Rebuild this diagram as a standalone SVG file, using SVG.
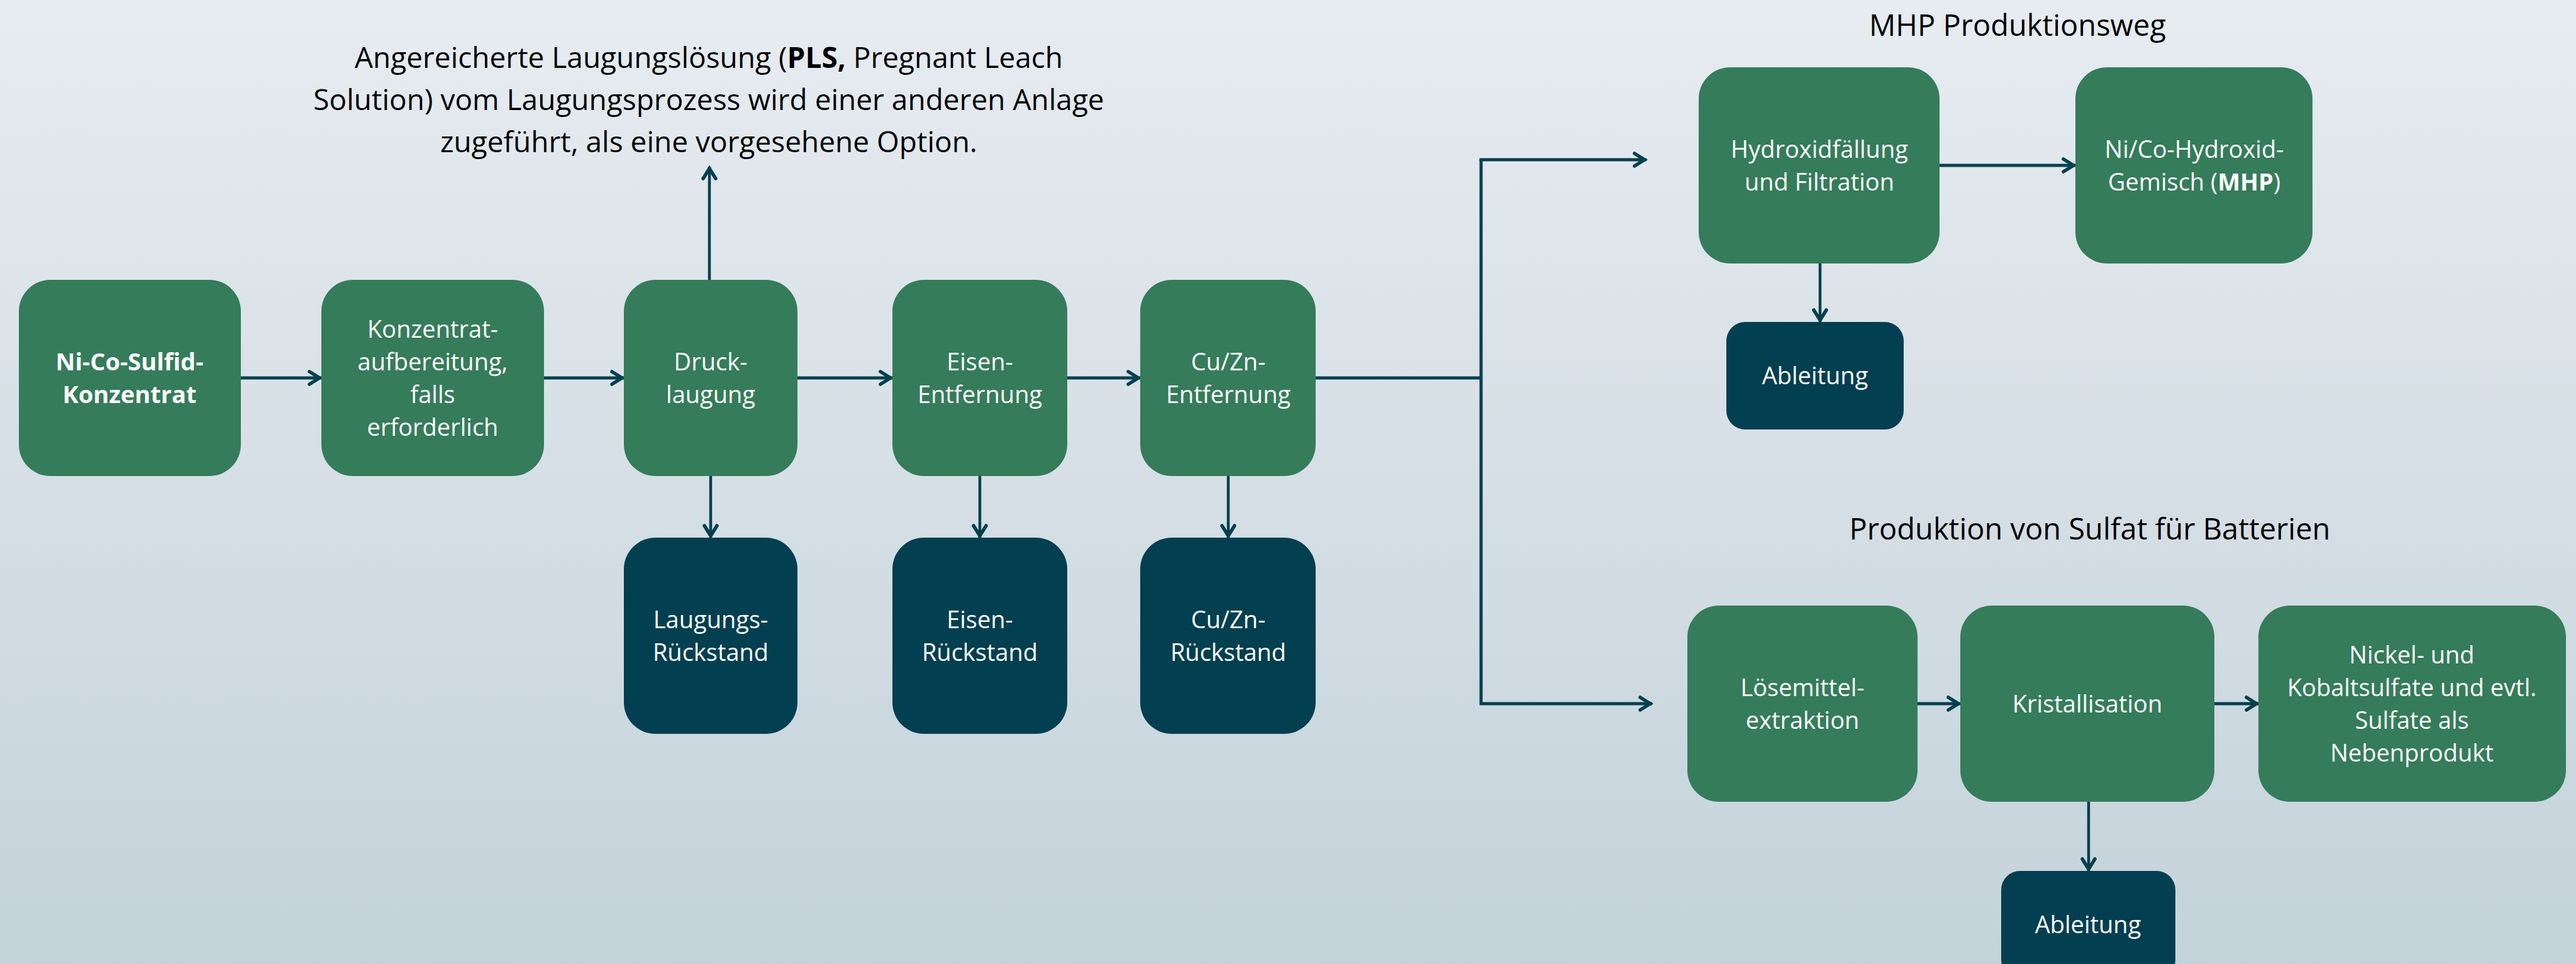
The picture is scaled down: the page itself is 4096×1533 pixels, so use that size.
<svg xmlns="http://www.w3.org/2000/svg" width="4096" height="1533" viewBox="0 0 4096 1533">
<defs>
<linearGradient id="bg" x1="0" y1="0" x2="0" y2="1">
<stop offset="0" stop-color="#E7ECF1"/>
<stop offset="1" stop-color="#C4D2DA"/>
</linearGradient>
<marker id="arr" viewBox="-25 -15 30 30" markerWidth="30" markerHeight="30" refX="0" refY="0" orient="auto" markerUnits="userSpaceOnUse">
<path d="M-19,-10 L-3,0 L-19,10" fill="none" stroke="#03404F" stroke-width="5.5" stroke-linecap="round" stroke-linejoin="miter"/>
</marker>
<style>
.g{fill:#357C5B}
.d{fill:#023F50}
.t{font-family:"Open Sans","Noto Sans",sans-serif;font-size:38px;fill:#FFFFFF;text-anchor:middle}
.h{font-family:"Open Sans","Noto Sans",sans-serif;font-size:46px;fill:#000000;text-anchor:middle}
.c{fill:none;stroke:#03404F;stroke-width:4.5}
.c5{fill:none;stroke:#03404F;stroke-width:5}
.b{font-weight:bold}
</style>
</defs>
<rect x="0" y="0" width="4096" height="1533" fill="url(#bg)"/>

<g id="title-pls">
<text class="h" x="1127" y="108"><tspan>Angereicherte Laugungslösung (</tspan><tspan class="b">PLS,</tspan><tspan> Pregnant Leach</tspan></text>
<text class="h" x="1127" y="175">Solution) vom Laugungsprozess wird einer anderen Anlage</text>
<text class="h" x="1127" y="242">zugeführt, als eine vorgesehene Option.</text>
</g>
<g id="title-mhp"><text class="h" x="3208" y="57" style="font-size:47px">MHP Produktionsweg</text></g>
<g id="title-sulfat"><text class="h" x="3323" y="858" style="font-size:47px">Produktion von Sulfat für Batterien</text></g>

<g id="connectors">
<line class="c5" x1="383" y1="601" x2="511" y2="601" marker-end="url(#arr)"/>
<line class="c5" x1="865" y1="601" x2="992" y2="601" marker-end="url(#arr)"/>
<line class="c5" x1="1268" y1="601" x2="1419" y2="601" marker-end="url(#arr)"/>
<line class="c5" x1="1697" y1="601" x2="1813" y2="601" marker-end="url(#arr)"/>
<line class="c" x1="1128" y1="445" x2="1128" y2="265" marker-end="url(#arr)"/>
<line class="c" x1="1130" y1="757" x2="1130" y2="855" marker-end="url(#arr)"/>
<line class="c" x1="1558" y1="757" x2="1558" y2="855" marker-end="url(#arr)"/>
<line class="c" x1="1953" y1="757" x2="1953" y2="855" marker-end="url(#arr)"/>
<line class="c5" x1="2092" y1="601" x2="2357" y2="601"/>
<polyline class="c5" points="2355,254 2355,1119 2627,1119" marker-end="url(#arr)"/>
<polyline class="c5" points="2355,256 2355,254 2618,254" marker-end="url(#arr)"/>
<line class="c5" x1="3084" y1="263" x2="3300" y2="263" marker-end="url(#arr)"/>
<line class="c" x1="2894" y1="419" x2="2894" y2="512" marker-end="url(#arr)"/>
<line class="c5" x1="3049" y1="1119" x2="3117" y2="1119" marker-end="url(#arr)"/>
<line class="c5" x1="3521" y1="1119" x2="3591" y2="1119" marker-end="url(#arr)"/>
<line class="c" x1="3321" y1="1275" x2="3321" y2="1385" marker-end="url(#arr)"/>
</g>

<g id="n-konzentrat">
<rect class="g" x="30" y="445" width="353" height="312" rx="50" ry="50"/>
<text class="t b" x="206" y="589">Ni-Co-Sulfid-</text>
<text class="t b" x="206" y="641">Konzentrat</text>
</g>
<g id="n-aufbereitung">
<rect class="g" x="511" y="445" width="354" height="312" rx="50" ry="50"/>
<text class="t" x="688" y="537">Konzentrat-</text>
<text class="t" x="688" y="589">aufbereitung,</text>
<text class="t" x="688" y="641">falls</text>
<text class="t" x="688" y="693">erforderlich</text>
</g>
<g id="n-drucklaugung">
<rect class="g" x="992" y="445" width="276" height="312" rx="50" ry="50"/>
<text class="t" x="1130" y="589">Druck-</text>
<text class="t" x="1130" y="641">laugung</text>
</g>
<g id="n-eisen">
<rect class="g" x="1419" y="445" width="278" height="312" rx="50" ry="50"/>
<text class="t" x="1558" y="589">Eisen-</text>
<text class="t" x="1558" y="641">Entfernung</text>
</g>
<g id="n-cuzn">
<rect class="g" x="1813" y="445" width="279" height="312" rx="50" ry="50"/>
<text class="t" x="1953" y="589">Cu/Zn-</text>
<text class="t" x="1953" y="641">Entfernung</text>
</g>
<g id="r-laugung">
<rect class="d" x="992" y="855" width="276" height="312" rx="50" ry="50"/>
<text class="t" x="1130" y="999">Laugungs-</text>
<text class="t" x="1130" y="1051">Rückstand</text>
</g>
<g id="r-eisen">
<rect class="d" x="1419" y="855" width="278" height="312" rx="50" ry="50"/>
<text class="t" x="1558" y="999">Eisen-</text>
<text class="t" x="1558" y="1051">Rückstand</text>
</g>
<g id="r-cuzn">
<rect class="d" x="1813" y="855" width="279" height="312" rx="50" ry="50"/>
<text class="t" x="1953" y="999">Cu/Zn-</text>
<text class="t" x="1953" y="1051">Rückstand</text>
</g>
<g id="n-hydroxid">
<rect class="g" x="2701" y="107" width="383" height="312" rx="50" ry="50"/>
<text class="t" x="2893" y="251">Hydroxidfällung</text>
<text class="t" x="2893" y="303">und Filtration</text>
</g>
<g id="n-mhp">
<rect class="g" x="3300" y="107" width="377" height="312" rx="50" ry="50"/>
<text class="t" x="3489" y="251">Ni/Co-Hydroxid-</text>
<text class="t" x="3489" y="303"><tspan>Gemisch (</tspan><tspan class="b">MHP</tspan><tspan>)</tspan></text>
</g>
<g id="n-ableitung1">
<rect class="d" x="2745" y="512" width="282" height="171" rx="30" ry="30"/>
<text class="t" x="2886" y="611">Ableitung</text>
</g>
<g id="n-loesemittel">
<rect class="g" x="2683" y="963" width="366" height="312" rx="50" ry="50"/>
<text class="t" x="2866" y="1107">Lösemittel-</text>
<text class="t" x="2866" y="1159">extraktion</text>
</g>
<g id="n-kristall">
<rect class="g" x="3117" y="963" width="404" height="312" rx="50" ry="50"/>
<text class="t" x="3319" y="1133">Kristallisation</text>
</g>
<g id="n-sulfate">
<rect class="g" x="3591" y="963" width="489" height="312" rx="50" ry="50"/>
<text class="t" x="3835" y="1055">Nickel- und</text>
<text class="t" x="3835" y="1107">Kobaltsulfate und evtl.</text>
<text class="t" x="3835" y="1159">Sulfate als</text>
<text class="t" x="3835" y="1211">Nebenprodukt</text>
</g>
<g id="n-ableitung2">
<rect class="d" x="3182" y="1385" width="277" height="171" rx="30" ry="30"/>
<text class="t" x="3320" y="1484">Ableitung</text>
</g>
</svg>
